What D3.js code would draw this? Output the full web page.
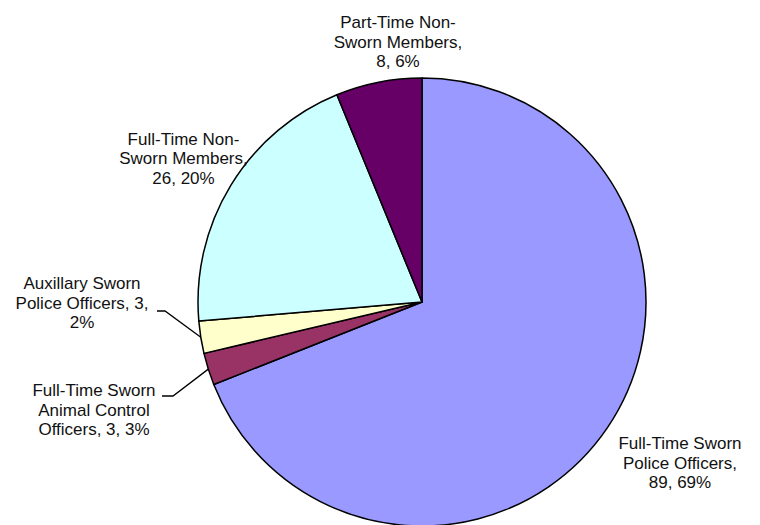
<!DOCTYPE html>
<html>
<head>
<meta charset="utf-8">
<script src="https://cdn.jsdelivr.net/npm/d3@7"></script>
<style>
  html, body { margin: 0; padding: 0; background: #fff; }
  svg { display: block; }
  text { font-family: "Liberation Sans", Arial, sans-serif; }
</style>
</head>
<body>
<svg id="chart" width="760" height="525"></svg>
<script>
// ---- data ----
const categories = [
  "Full-Time Sworn Police Officers",
  "Full-Time Sworn Animal Control Officers",
  "Auxillary Sworn Police Officers",
  "Full-Time Non-Sworn Members",
  "Part-Time Non-Sworn Members"
];
const values = [89, 3, 3, 26, 8];
const percentLabels = ["69%", "3%", "2%", "20%", "6%"];
const labelLines = [
  ["Full-Time Sworn", "Police Officers,", "89, 69%"],
  ["Full-Time Sworn", "Animal Control", "Officers, 3, 3%"],
  ["Auxillary Sworn", "Police Officers, 3,", "2%"],
  ["Full-Time Non-", "Sworn Members,", "26, 20%"],
  ["Part-Time Non-", "Sworn Members,", "8, 6%"]
];
const colors = ["#9999FF", "#993366", "#FFFFCC", "#CCFFFF", "#660066"];

// ---- layout ----
const cx = 422, cy = 302, R = 224;
const fontSize = 17, lineH = 19.5;
// label centre (x) and first baseline (y)
const labelPos = [
  {x: 680, y: 449, leader: false},
  {x: 94,  y: 396, leader: true, lx: 162, hx: 173, ly: 396},
  {x: 82,  y: 289, leader: true, lx: 157, hx: 165, ly: 311},
  {x: 183.5, y: 144.5, leader: false},
  {x: 398, y: 28, leader: false}
];

const svg = d3.select("#chart");
const g = svg.append("g").attr("transform", `translate(${cx},${cy})`);

const pie = d3.pie().sort(null).value(d => d);
const arcs = pie(values);
const arc = d3.arc().innerRadius(0).outerRadius(R);

g.selectAll("path.slice")
  .data(arcs)
  .enter().append("path")
  .attr("class", "slice")
  .attr("d", arc)
  .attr("fill", (d, i) => colors[i])
  .attr("stroke", "#000")
  .attr("stroke-width", 1.5)
  .attr("stroke-linejoin", "round");

// leader lines
arcs.forEach((a, i) => {
  const p = labelPos[i];
  if (!p.leader) return;
  const mid = (a.startAngle + a.endAngle) / 2;
  const ex = cx + R * Math.sin(mid), ey = cy - R * Math.cos(mid);
  svg.append("polyline")
    .attr("points", `${p.lx},${p.ly} ${p.hx},${p.ly} ${ex},${ey}`)
    .attr("fill", "none")
    .attr("stroke", "#000")
    .attr("stroke-width", 1.3);
});

// labels
labelLines.forEach((lines, i) => {
  const p = labelPos[i];
  const t = svg.append("text")
    .attr("text-anchor", "middle")
    .attr("font-size", fontSize)
    .attr("fill", "#111");
  lines.forEach((s, k) => {
    t.append("tspan").attr("x", p.x).attr("y", p.y + k * lineH).text(s);
  });
});
</script>
</body>
</html>
